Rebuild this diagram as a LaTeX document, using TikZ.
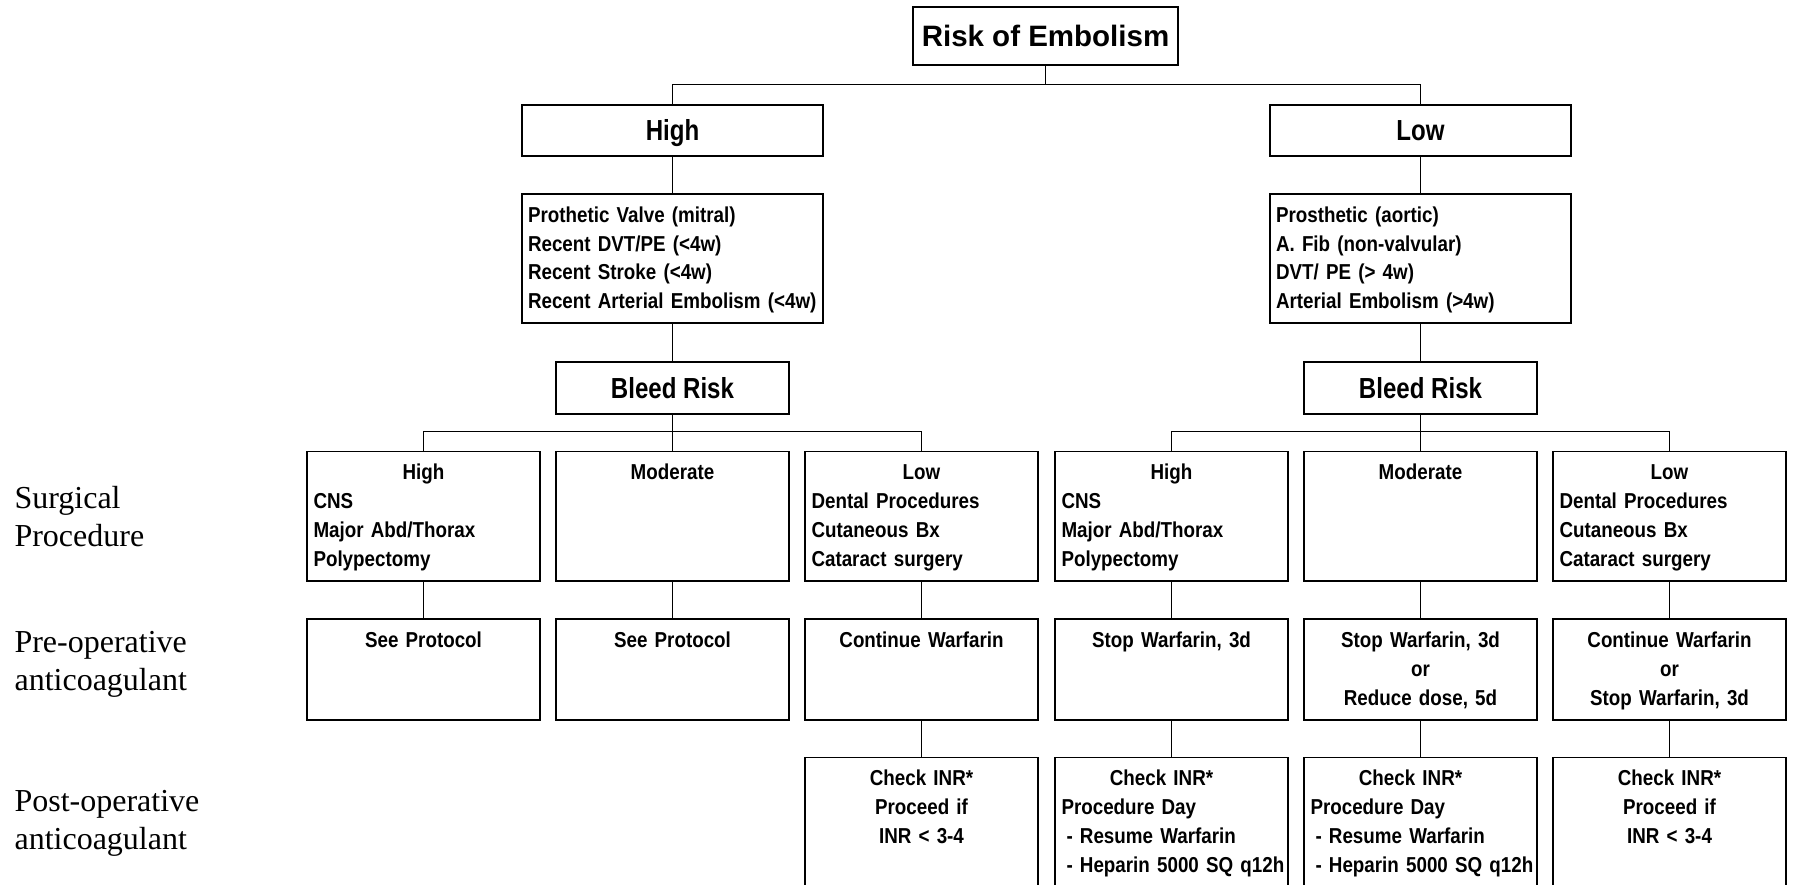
\documentclass[tikz,border=0pt]{standalone}
\usepackage{fontspec}
\setmainfont{Liberation Serif}
\setsansfont{Liberation Sans}
\newfontfamily\cellfont{Liberation Sans Bold}[FakeStretch=0.87]
\newfontfamily\headfont{Liberation Sans Bold}[FakeStretch=0.83]
\newcommand{\ctr}[1]{\makebox[\linewidth]{#1}}

\begin{document}
\begin{tikzpicture}[x=1pt,y=-1pt,line width=1.1pt]
  \tikzstyle{every node}=[inner sep=0pt]
  \tikzstyle{title}=[draw,line width=1.6pt,minimum width=265pt,minimum height=58pt,
                     text height=21.5pt,text depth=0pt,
                     font=\sffamily\bfseries\fontsize{29.5}{35}\selectfont]
  \tikzstyle{head}=[draw,line width=1.6pt,minimum width=301pt,minimum height=51pt,
                    anchor=north,text height=21pt,text depth=0pt,
                    font=\headfont\fontsize{29}{35}\selectfont]
  \tikzstyle{list}=[draw,line width=1.6pt,anchor=north,inner xsep=6pt,text width=289pt,
                    align=left,text height=28.7pt,text depth=100.3pt,
                    font=\cellfont\fontsize{21.6}{28.7}\selectfont]
  \tikzstyle{cell}=[draw,line width=1.6pt,anchor=north,inner xsep=6.5pt,text width=220pt,
                    text height=28.3pt,font=\cellfont\fontsize{21.6}{29}\selectfont]
  \tikzstyle{row1}=[cell,align=left,text depth=101.3pt]
  \tikzstyle{row2}=[cell,align=center,text depth=72.7pt]
  \tikzstyle{row3}=[cell,text depth=105pt]
  \tikzstyle{lab}=[anchor=base west,text width=220pt,align=left,
                   font=\rmfamily\fontsize{32}{38}\selectfont]

  \path[fill=white] (0,0) rectangle (1796,885);
  \useasboundingbox (0,0) rectangle (1796,885);

  % top of the tree
  \node[title] (risk) at (1045.5,36) {Risk of Embolism};
  \node[head] (high) at (672.5,104) {High};
  \node[head] (low) at (1420.5,104) {Low};
  \node[list] (hlist) at (672.5,193) {Prothetic Valve (mitral)\\Recent DVT/PE (<4w)\\
    Recent Stroke (<4w)\\Recent Arterial Embolism (<4w)};
  \node[list] (llist) at (1420.5,193) {Prosthetic (aortic)\\A. Fib (non-valvular)\\
    DVT/ PE (> 4w)\\Arterial Embolism (>4w)};
  \node[head,minimum width=233pt,minimum height=52pt] (hbleed) at (672.5,361) {Bleed Risk};
  \node[head,minimum width=233pt,minimum height=52pt] (lbleed) at (1420.5,361) {Bleed Risk};

  % surgical procedure
  \node[row1] (s1) at (423.5,450.7) {\ctr{High}\\CNS\\Major Abd/Thorax\\Polypectomy};
  \node[row1] (s2) at (672.5,450.7) {\ctr{Moderate}};
  \node[row1] (s3) at (921.5,450.7) {\ctr{Low}\\Dental Procedures\\Cutaneous Bx\\Cataract surgery};
  \node[row1] (s4) at (1171.5,450.7) {\ctr{High}\\CNS\\Major Abd/Thorax\\Polypectomy};
  \node[row1] (s5) at (1420.5,450.7) {\ctr{Moderate}};
  \node[row1] (s6) at (1669.5,450.7) {\ctr{Low}\\Dental Procedures\\Cutaneous Bx\\Cataract surgery};

  % pre-operative
  \node[row2] (p1) at (423.5,618.3) {See Protocol};
  \node[row2] (p2) at (672.5,618.3) {See Protocol};
  \node[row2] (p3) at (921.5,618.3) {Continue Warfarin};
  \node[row2] (p4) at (1171.5,618.3) {Stop Warfarin, 3d};
  \node[row2] (p5) at (1420.5,618.3) {Stop Warfarin, 3d\\or\\Reduce dose, 5d};
  \node[row2] (p6) at (1669.5,618.3) {Continue Warfarin\\or\\Stop Warfarin, 3d};

  % post-operative
  \node[row3,align=center] (q3) at (921.5,756.7) {Check INR*\\Proceed if\\INR < 3-4};
  \node[row3,align=left] (q4) at (1171.5,756.7) {\ctr{Check INR*\hspace{20pt}}\\Procedure Day\\
    \hspace*{5pt}- Resume Warfarin\\\mbox{\hspace*{5pt}- Heparin 5000 SQ q12h}};
  \node[row3,align=left] (q5) at (1420.5,756.7) {\ctr{Check INR*\hspace{20pt}}\\Procedure Day\\
    \hspace*{5pt}- Resume Warfarin\\\mbox{\hspace*{5pt}- Heparin 5000 SQ q12h}};
  \node[row3,align=center] (q6) at (1669.5,756.7) {Check INR*\\Proceed if\\INR < 3-4};

  % row titles
  \node[lab] (lsurg) at (14,508) {Surgical\\Procedure};
  \node[lab] (lpre) at (14,652) {Pre-operative\\anticoagulant};
  \node[lab] (lpost) at (14,811) {Post-operative\\anticoagulant};

  % connectors
  \coordinate (j0) at (1045.5,84.5);
  \coordinate (jl) at (672.5,431.5);
  \coordinate (jr) at (1420.5,431.5);
  \draw (risk) -- (j0);
  \draw (high.north) |- (j0) -| (low.north);
  \draw (high) -- (hlist);
  \draw (low) -- (llist);
  \draw (hlist) -- (hbleed);
  \draw (llist) -- (lbleed);
  \draw (hbleed) -- (jl) -- (s2);
  \draw (lbleed) -- (jr) -- (s5);
  \draw (s1.north) |- (jl) -| (s3.north);
  \draw (s4.north) |- (jr) -| (s6.north);
  \foreach \i in {1,...,6}
    \draw (s\i.south) -- (p\i.north);
  \foreach \i in {3,...,6}
    \draw (p\i.south) -- (q\i.north);
\end{tikzpicture}
\end{document}
